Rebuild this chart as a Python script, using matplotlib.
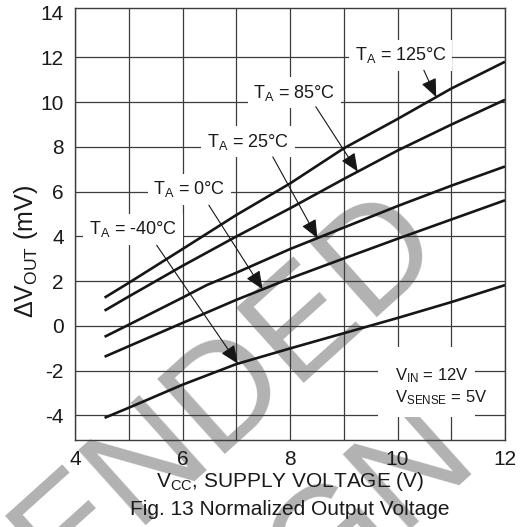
import numpy as np
import matplotlib
matplotlib.use("Agg")
import matplotlib.pyplot as plt
from matplotlib.patches import Rectangle

plt.rcParams["font.family"] = ["Liberation Sans", "DejaVu Sans"]
plt.rcParams["mathtext.fontset"] = "custom"
plt.rcParams["mathtext.rm"] = "Liberation Sans"
plt.rcParams["mathtext.it"] = "Liberation Sans:italic"
plt.rcParams["mathtext.bf"] = "Liberation Sans:bold"

# Supply voltage (V) and output change (mV) per ambient temperature
vcc = [4.55, 5, 6, 7, 8, 9, 10, 11, 12]
dv_125 = [1.26, 1.92, 3.43, 4.95, 6.36, 7.93, 9.24, 10.6, 11.8]
dv_85 = [0.68, 1.31, 2.68, 3.99, 5.25, 6.56, 7.83, 8.99, 10.1]
vcc_25 = [4.55, 5, 6, 6.45, 7, 8, 9, 10, 11, 12]
dv_25 = [-0.49, 0.05, 1.26, 1.82, 2.37, 3.43, 4.39, 5.35, 6.26, 7.12]
dv_0 = [-1.38, -0.91, 0.13, 1.16, 2.12, 3.01, 3.89, 4.75, 5.61]
dv_m40 = [-4.11, -3.66, -2.63, -1.71, -1.01, -0.33, 0.35, 1.06, 1.82]

temps = ["125", "85", "25", "0", "-40"]
x_ticks = [4, 6, 8, 10, 12]
y_ticks = [-4, -2, 0, 2, 4, 6, 8, 10, 12, 14]

series = [
    (vcc, dv_125),
    (vcc, dv_85),
    (vcc_25, dv_25),
    (vcc, dv_0),
    (vcc, dv_m40),
]

# label centre, arrow tail, arrow tip x (data units)
label_pos = [(10.06, 12.09), (8.08, 10.41), (7.22, 8.22), (6.13, 6.1), (5.08, 4.31)]
arrow_tail = [(10.49, 11.42), (8.48, 9.79), (7.68, 7.55), (6.49, 5.39), (5.52, 3.6)]
arrow_tip_x = [10.72, 9.26, 8.51, 7.49, 7.03]

W, H = 526, 527
fig = plt.figure(figsize=(W / 100, H / 100), dpi=100)
fig.patch.set_facecolor("white")

# diagonal background stamp
wm_size = 106
em = wm_size * 100 / 72
wm = dict(fontsize=wm_size, color="#b2b2b2", rotation=42, rotation_mode="anchor",
          ha="center", va="baseline", zorder=-5, fontfamily="Liberation Sans")
ang = np.deg2rad(42)
u = np.array([np.cos(ang), np.sin(ang)])      # along text (fig px, y up)
n = np.array([np.sin(ang), -np.cos(ang)])     # down the page
end1 = np.array([432.0, H - 268.0])
c1 = end1 - u * 10.144 * em / 2
c2 = c1 + n * 1.22 * em
fig.text(c1[0] / W, c1[1] / H, "NOT RECOMMENDED", transform=fig.transFigure, **wm)
fig.text(c2[0] / W, c2[1] / H, "FOR NEW DESIGN", transform=fig.transFigure, **wm)

ax = fig.add_axes([75 / W, 1 - 440 / H, 430 / W, 432 / H])
ax.patch.set_alpha(0)
ax.set_xlim(4, 12)
ax.set_ylim(-5.1, 14.2)

ax.set_xticks(range(4, 13))
ax.set_xticklabels([str(v) if v in x_ticks else "" for v in range(4, 13)])
ax.set_yticks(y_ticks)
ax.set_yticklabels([str(v) for v in y_ticks])
ax.tick_params(length=0, labelsize=15, colors="#1a1a1a")
ax.tick_params(axis="x", pad=7)
ax.tick_params(axis="y", pad=8)
ax.grid(True, color="#3c3c3c", lw=0.9, zorder=1)
ax.yaxis.get_gridlines()[-1].set_visible(False)
ax.set_axisbelow(True)
for s in ax.spines.values():
    s.set_color("#3c3c3c")
    s.set_linewidth(1.0)

for (xs, ys) in series:
    ax.plot(xs, ys, color="#161616", lw=1.9, zorder=4, solid_capstyle="butt")

for t, (xs, ys), lp, tail, tx in zip(temps, series, label_pos, arrow_tail, arrow_tip_x):
    ax.text(lp[0], lp[1], r"$\mathrm{T_A}$ = " + t + "°C", fontsize=13,
            ha="center", va="center", color="#1a1a1a", zorder=3,
            bbox=dict(fc="white", ec="none", pad=4))
    tip = (tx, float(np.interp(tx, xs, ys)))
    ax.annotate("", xy=tip, xytext=tail, zorder=5,
                arrowprops=dict(arrowstyle="-|>,head_length=0.7,head_width=0.3",
                                color="#161616", lw=0.8, mutation_scale=16,
                                shrinkA=0, shrinkB=0))

# test conditions block
ax.add_patch(Rectangle((0.705, 0.053), 0.225, 0.162, transform=ax.transAxes,
                       fc="white", ec="none", zorder=2))
ax.text(0.744, 0.150, r"$\mathrm{V_{IN}}$ = 12V", transform=ax.transAxes,
        fontsize=12, ha="left", va="center", color="#1a1a1a", zorder=3)
ax.text(0.744, 0.097, r"$\mathrm{V_{SENSE}}$ = 5V", transform=ax.transAxes,
        fontsize=12, ha="left", va="center", color="#1a1a1a", zorder=3)

fig.text(0.551, 1 - 487 / H, r"$\mathrm{V_{CC}}$, SUPPLY VOLTAGE (V)", fontsize=15,
         ha="center", va="baseline", color="#1a1a1a")
fig.text(0.551, 1 - 515 / H, "Fig. 13 Normalized Output Voltage", fontsize=15,
         ha="center", va="baseline", color="#1a1a1a")
fig.text(26 / W, 1 - 252 / H, r"$\mathrm{\Delta V_{OUT}}$ (mV)", fontsize=18,
         rotation=90, ha="center", va="center", color="#1a1a1a")

fig.savefig("out.png", dpi=100, facecolor="white")
